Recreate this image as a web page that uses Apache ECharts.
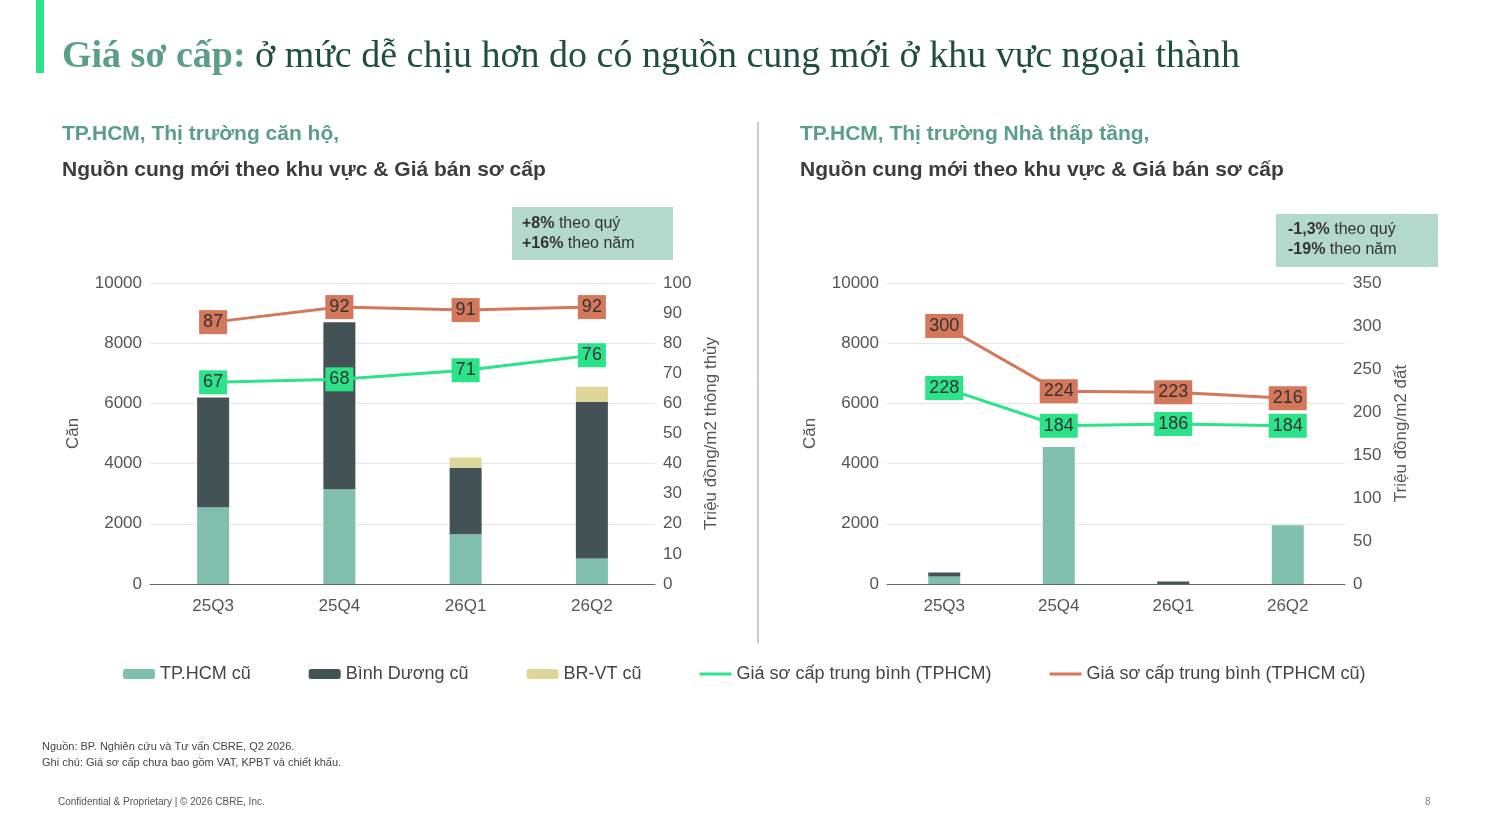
<!DOCTYPE html>
<html lang="vi" style="height: 100%">
<head>
    <meta charset="utf-8">
</head>
<body style="height: 100%; margin: 0; background: #fff">
<div id="container" style="height: 100%"></div>
<script type="text/javascript" src="https://fastly.jsdelivr.net/npm/echarts@6.0.0/dist/echarts.min.js"></script>
<script type="text/javascript">
    // dữ liệu
    var quarters = ['25Q3', '25Q4', '26Q1', '26Q2'];

    // căn hộ
    var aptHcm = [2550, 3150, 1650, 850];
    var aptBd = [3650, 5550, 2200, 5200];
    var aptBrvt = [0, 0, 350, 500];
    var aptPriceNew = [67, 68, 71, 76];
    var aptPriceOld = [87, 92, 91, 92];

    // nhà thấp tầng
    var landHcm = [250, 4550, 0, 1950];
    var landBd = [130, 0, 80, 0];
    var landBrvt = [0, 0, 0, 0];
    var landPriceNew = [228, 184, 186, 184];
    var landPriceOld = [300, 224, 223, 216];

    var names = ['TP.HCM cũ', 'Bình Dương cũ', 'BR-VT cũ', 'Giá sơ cấp trung bình (TPHCM)', 'Giá sơ cấp trung bình (TPHCM cũ)'];
    var colors = ['#80bfad', '#435254', '#dcd69a', '#2de38a', '#d4775a'];

    var dom = document.getElementById('container');
    var myChart = echarts.init(dom, null, { renderer: 'canvas' });

    var axisText = { color: '#555', fontSize: 17, fontFamily: 'Arial', formatter: function (v) { return String(v); } };

    function yAxes(gi, rmax, rint, rname) {
        return [{
            type: 'value', gridIndex: gi, min: 0, max: 10000, interval: 2000,
            name: 'Căn', nameLocation: 'middle', nameGap: 68,
            nameTextStyle: { color: '#555', fontSize: 17 },
            axisLabel: axisText, splitLine: { lineStyle: { color: '#e6e6e6' } }
        }, {
            type: 'value', gridIndex: gi, min: 0, max: rmax, interval: rint,
            name: rname, nameLocation: 'middle', nameGap: 48,
            nameTextStyle: { color: '#555', fontSize: 17 },
            axisLabel: axisText, splitLine: { show: false }
        }];
    }

    function series(gi, hcm, bd, brvt, pNew, pOld) {
        var x = gi, y = gi * 2;
        var bar = function (i, d) {
            return { type: 'bar', name: names[i], stack: 's' + gi, xAxisIndex: x, yAxisIndex: y,
                data: d, barWidth: 32, itemStyle: { color: colors[i] } };
        };
        var line = function (i, d) {
            return { type: 'line', name: names[i], xAxisIndex: x, yAxisIndex: y + 1, data: d,
                symbol: 'circle', symbolSize: 1, showSymbol: true,
                lineStyle: { color: colors[i], width: 3 }, itemStyle: { color: colors[i] },
                label: { show: true, position: 'inside', color: '#333', fontSize: 18,
                    backgroundColor: colors[i], padding: [3, 4] } };
        };
        return [bar(0, hcm), bar(1, bd), bar(2, brvt), line(3, pNew), line(4, pOld)];
    }

    var lineIcon = 'path://M0,0L32,0L32,3L0,3Z';

    var option = {
        animation: false,
        textStyle: { fontFamily: 'Arial' },
        grid: [
            { left: 150, right: 833, top: 283, bottom: 251 },
            { left: 887, right: 143, top: 283, bottom: 251 }
        ],
        xAxis: [0, 1].map(function (gi) {
            return { type: 'category', gridIndex: gi, data: quarters,
                axisTick: { show: false }, axisLine: { lineStyle: { color: '#666' } },
                axisLabel: { color: '#555', fontSize: 17, margin: 14 } };
        }),
        yAxis: yAxes(0, 100, 10, 'Triệu đồng/m2 thông thủy').concat(yAxes(1, 350, 50, 'Triệu đồng/m2 đất')),
        legend: {
            data: [
                { name: names[0] }, { name: names[1] }, { name: names[2] },
                { name: names[3], icon: lineIcon }, { name: names[4], icon: lineIcon }
            ],
            left: 118, top: 660, itemGap: 58, itemWidth: 32, itemHeight: 10,
            textStyle: { color: '#444', fontSize: 18 }
        },
        series: series(0, aptHcm, aptBd, aptBrvt, aptPriceNew, aptPriceOld)
            .concat(series(1, landHcm, landBd, landBrvt, landPriceNew, landPriceOld)),
        graphic: [
            { type: 'rect', shape: { x: 36, y: 0, width: 8, height: 73 }, style: { fill: '#2de38a' } },
            { type: 'text', left: 62, top: 38, style: { rich: {
                a: { fontFamily: 'Liberation Serif', fontSize: 38, fontWeight: 'bold', fill: '#5a9e8a' },
                b: { fontFamily: 'Liberation Serif', fontSize: 38, fill: '#1f4d40' } },
                text: '{a|Giá sơ cấp:}{b| ở mức dễ chịu hơn do có nguồn cung mới ở khu vực ngoại thành}' } },
            { type: 'text', left: 62, top: 124, style: { text: 'TP.HCM, Thị trường căn hộ,', fill: '#5a9e8a', fontSize: 21, fontWeight: 'bold' } },
            { type: 'text', left: 62, top: 160, style: { text: 'Nguồn cung mới theo khu vực & Giá bán sơ cấp', fill: '#3d3d3d', fontSize: 21, fontWeight: 'bold' } },
            { type: 'text', left: 800, top: 124, style: { text: 'TP.HCM, Thị trường Nhà thấp tầng,', fill: '#5a9e8a', fontSize: 21, fontWeight: 'bold' } },
            { type: 'text', left: 800, top: 160, style: { text: 'Nguồn cung mới theo khu vực & Giá bán sơ cấp', fill: '#3d3d3d', fontSize: 21, fontWeight: 'bold' } },
            { type: 'line', shape: { x1: 758, y1: 122, x2: 758, y2: 643 }, style: { stroke: '#999', lineWidth: 1 } },
            { type: 'rect', shape: { x: 512, y: 207, width: 161, height: 53 }, style: { fill: '#b3d9cd' } },
            { type: 'text', left: 522, top: 214, style: { rich: { b: { fontWeight: 'bold', fontSize: 16, fill: '#333' }, n: { fontSize: 16, fill: '#333' } },
                text: '{b|+8%}{n| theo quý}\n{b|+16%}{n| theo năm}', lineHeight: 20 } },
            { type: 'rect', shape: { x: 1276, y: 214, width: 162, height: 53 }, style: { fill: '#b3d9cd' } },
            { type: 'text', left: 1288, top: 220, style: { rich: { b: { fontWeight: 'bold', fontSize: 16, fill: '#333' }, n: { fontSize: 16, fill: '#333' } },
                text: '{b|-1,3%}{n| theo quý}\n{b|-19%}{n| theo năm}', lineHeight: 20 } },
            { type: 'text', left: 42, top: 739, style: { text: 'Nguồn: BP. Nghiên cứu và Tư vấn CBRE, Q2 2026.\nGhi chú: Giá sơ cấp chưa bao gồm VAT, KPBT và chiết khấu.', fill: '#444', fontSize: 11, lineHeight: 16 } },
            { type: 'text', left: 58, top: 797, style: { text: 'Confidential & Proprietary | © 2026 CBRE, Inc.', fill: '#555', fontSize: 10 } },
            { type: 'text', left: 1425, top: 797, style: { text: '8', fill: '#888', fontSize: 10 } }
        ]
    };
    myChart.setOption(option);
    window.addEventListener('resize', myChart.resize);
</script>
</body>
</html>
